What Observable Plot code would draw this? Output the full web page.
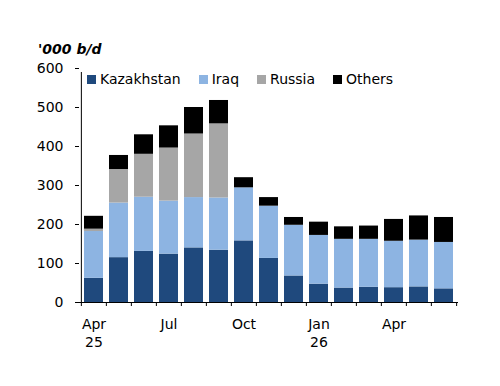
<!DOCTYPE html>
<html><head><meta charset="utf-8">
<script src="https://cdn.jsdelivr.net/npm/d3@7"></script>
<script src="https://cdn.jsdelivr.net/npm/@observablehq/plot@0.6"></script>
<style>
body{margin:0;background:#fff;font-family:"DejaVu Sans",sans-serif;}
#wrap{position:relative;width:500px;height:386px;}
#chart{position:absolute;left:0;top:0;}
#title{position:absolute;left:38px;top:41px;font:italic bold 14px "DejaVu Sans";line-height:16px;color:#000;}
#legend{position:absolute;left:87px;top:71px;display:flex;gap:18px;font:14px "DejaVu Sans";line-height:16px;color:#000;}
#legend .item{display:flex;align-items:center;}
#legend .sw{width:9px;height:9px;margin-right:4px;}
</style></head><body>
<div id="wrap"><div id="chart"></div><div id="title">'000 b/d</div><div id="legend"></div></div>
<script>
const months = ["Apr 25","May 25","Jun 25","Jul 25","Aug 25","Sep 25","Oct 25","Nov 25","Dec 25","Jan 26","Feb 26","Mar 26","Apr 26","May 26","Jun 26"];
const kazakhstan = [62,115,131,124,140,134,158,113,68,47,37,39,38,40,35];
const iraq       = [120,140,139,136,129,134,136,134,130,125,125,123,119,120,119];
const russia     = [6,86,110,136,163,190,0,0,0,0,0,0,0,0,0];
const others     = [33,36,50,57,68,60,26,22,20,34,32,34,56,62,64];
const seriesNames = ["Kazakhstan","Iraq","Russia","Others"];
const seriesColors = ["#1F497D","#8DB4E2","#A6A6A6","#000000"];
const yTicks = [0,100,200,300,400,500,600];
const tickMonths = ["Apr 25","Jul 25","Oct 25","Jan 26","Apr 26"];
const tickLabels = ["Apr\n25","Jul","Oct","Jan\n26","Apr"];

const seriesValues = [kazakhstan, iraq, russia, others];
const data = [];
seriesNames.forEach((s, k) => months.forEach((m, i) => data.push({month: m, series: s, value: seriesValues[k][i]})));
const labelData = tickMonths.map((m, i) => ({month: m, label: tickLabels[i]}));

const W = 500, H = 386, mL = 79, mR = 42, mT = 68, mB = 84;
const step = (W - mL - mR) / months.length;

const chart = Plot.plot({
  width: W, height: H,
  marginLeft: mL, marginRight: mR, marginTop: mT, marginBottom: mB,
  style: {fontFamily: "DejaVu Sans", fontSize: "14px", color: "#000", background: "transparent"},
  x: {domain: months, paddingInner: 0.23, paddingOuter: 0.115, axis: null},
  y: {domain: [0, 600], axis: null},
  color: {domain: seriesNames, range: seriesColors},
  marks: [
    Plot.barY(data, {x: "month", y: "value", fill: "series"}),
    Plot.axisY({ticks: yTicks, tickSize: 4, tickPadding: 12, label: null, stroke: "#000", fill: "#000"}),
    Plot.ruleY([0], {stroke: "#000"}),
    Plot.ruleX([months[0]], {x: d => d, dx: -step / 2, y1: () => 0, y2: () => 600, insetBottom: -4, stroke: "#000"}),
    Plot.ruleX(months, {x: d => d, dx: -step / 2, y1: () => 0, y2: () => 0, insetBottom: -4, stroke: "#000"}),
    Plot.ruleX([months[months.length - 1]], {x: d => d, dx: step / 2, y1: () => 0, y2: () => 0, insetBottom: -4, stroke: "#000"}),
    Plot.text(labelData, {x: "month", y: () => 0, text: "label", lineAnchor: "top", dy: 14, lineHeight: 1.29, fontSize: 14, fill: "#000"})
  ]
});
document.getElementById("chart").appendChild(chart);

const legend = document.getElementById("legend");
seriesNames.forEach((s, k) => {
  const item = document.createElement("div");
  item.className = "item";
  const sw = document.createElement("span");
  sw.className = "sw";
  sw.style.background = seriesColors[k];
  const t = document.createElement("span");
  t.textContent = s;
  item.appendChild(sw); item.appendChild(t);
  legend.appendChild(item);
});
</script>
</body></html>
